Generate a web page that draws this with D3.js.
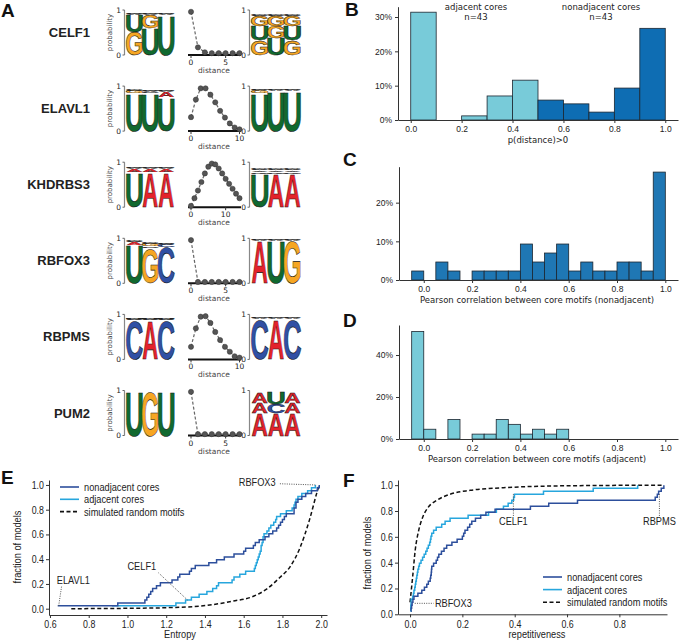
<!DOCTYPE html>
<html>
<head>
<meta charset="utf-8">
<script src="https://cdn.jsdelivr.net/npm/d3@7"></script>
<style>
  body { margin: 0; background: #fff; }
  text { fill: #222; }
</style>
</head>
<body>
<script>
// ---------- panel A data ----------
const rowNames = ["CELF1", "ELAVL1", "KHDRBS3", "RBFOX3", "RBPMS", "PUM2"];

// p(distance) per RBP, distance = index
const distCELF1 = [0.96, 0.17, 0.06, 0.04, 0.04, 0.04, 0.04, 0.04];
const distELAVL1 = [0.31, 0.70, 0.95, 0.95, 0.81, 0.64, 0.45, 0.30, 0.17, 0.08, 0.04];
const distKHDRBS3 = [0.03, 0.20, 0.37, 0.56, 0.75, 0.90, 0.97, 0.95, 0.86, 0.75, 0.63, 0.52, 0.41, 0.30, 0.20];
const distRBFOX3 = [0.96, 0.03, 0.03, 0.03, 0.03, 0.03, 0.03, 0.03];
const distRBPMS = [0.28, 0.69, 0.95, 0.96, 0.81, 0.61, 0.43, 0.28, 0.17, 0.07, 0.04];
const distPUM2 = [0.97, 0.03, 0.03, 0.03, 0.03, 0.03, 0.03, 0.03];
const distTicks = [[0, 5], [0, 10], [0, 10], [0, 5], [0, 10], [0, 5]];

// logo columns, bottom -> top, [letter, probability]
const tiny = [["A", 0.012], ["C", 0.012], ["G", 0.012]];
const leftCELF1 = [[["G", 0.52], ["U", 0.37], ...tiny], [["U", 0.60], ["G", 0.29], ...tiny], [["U", 0.89], ...tiny]];
const rightCELF1 = [[["G", 0.33], ["U", 0.31], ["G", 0.22], ...tiny], [["U", 0.37], ["G", 0.27], ["G", 0.22], ...tiny], [["G", 0.33], ["U", 0.31], ["G", 0.22], ...tiny]];
const leftELAVL1 = [[["U", 0.84], ["G", 0.05], ...tiny], [["U", 0.84], ["C", 0.03], ...tiny], [["U", 0.75], ["A", 0.12], ...tiny]];
const rightELAVL1 = [[["U", 0.84], ["G", 0.06], ...tiny], [["U", 0.90], ...tiny], [["U", 0.90], ...tiny]];
const leftKHDRBS3 = [[["U", 0.78], ["A", 0.07], ...tiny], [["A", 0.78], ["A", 0.07], ...tiny], [["A", 0.78], ["A", 0.07], ...tiny]];
const rightKHDRBS3 = [[["U", 0.74], ["G", 0.04], ["A", 0.04], ...tiny], [["A", 0.74], ["G", 0.04], ["A", 0.04], ...tiny], [["A", 0.74], ["G", 0.04], ["A", 0.04], ...tiny]];
const leftRBFOX3 = [[["U", 0.86], ["A", 0.05], ...tiny], [["G", 0.78], ["C", 0.04], ["G", 0.05], ...tiny], [["C", 0.80], ["C", 0.06], ...tiny]];
const rightRBFOX3 = [[["A", 0.94], ...tiny], [["U", 0.94], ...tiny], [["G", 0.94], ...tiny]];
const leftRBPMS = [[["C", 0.87], ...tiny, ["U", 0.012]], [["A", 0.87], ...tiny, ["U", 0.012]], [["C", 0.87], ...tiny, ["U", 0.012]]];
const rightRBPMS = [[["C", 0.90], ...tiny], [["A", 0.90], ...tiny], [["C", 0.90], ...tiny]];
const leftPUM2 = [[["U", 1.0]], [["G", 1.0]], [["U", 1.0]]];
const rightPUM2 = [[["A", 0.50], ["A", 0.22], ["A", 0.23]], [["A", 0.50], ["C", 0.20], ["U", 0.25]], [["A", 0.50], ["A", 0.22], ["A", 0.23]]];

const distData = [distCELF1, distELAVL1, distKHDRBS3, distRBFOX3, distRBPMS, distPUM2];
const leftLogos = [leftCELF1, leftELAVL1, leftKHDRBS3, leftRBFOX3, leftRBPMS, leftPUM2];
const rightLogos = [rightCELF1, rightELAVL1, rightKHDRBS3, rightRBFOX3, rightRBPMS, rightPUM2];

// ---------- panel B ----------
const bBinStart = [0.0, 0.1, 0.2, 0.3, 0.4, 0.5, 0.6, 0.7, 0.8, 0.9];
const bPercent = [31.4, 0, 1.2, 7.0, 11.6, 5.8, 4.7, 2.3, 9.3, 26.7];
const bGroup = ["adj", "adj", "adj", "adj", "adj", "non", "non", "non", "non", "non"];

// ---------- panel C / D (counts of 43 models, bin width 0.05) ----------
const cBinStart = [-0.05, 0.0, 0.05, 0.1, 0.15, 0.2, 0.25, 0.3, 0.35, 0.4, 0.45, 0.5, 0.55, 0.6, 0.65, 0.7, 0.75, 0.8, 0.85, 0.9, 0.95];
const cCounts = [1, 0, 2, 1, 0, 1, 1, 1, 1, 4, 2, 3, 4, 1, 2, 1, 1, 2, 2, 1, 12];
const dBinStart = [-0.05, 0.0, 0.05, 0.1, 0.15, 0.2, 0.25, 0.3, 0.35, 0.4, 0.45, 0.5, 0.55];
const dCounts = [22, 2, 0, 4, 0, 1, 1, 4, 3, 1, 2, 1, 2];
const nModels = 43;

// ---------- panel E (entropy per model) ----------
const entropyNonadj = [0.64, 0.95, 1.09, 1.10, 1.11, 1.12, 1.13, 1.15, 1.17, 1.23, 1.26, 1.27, 1.32, 1.33, 1.35,
  1.42, 1.46, 1.50, 1.55, 1.60, 1.61, 1.65, 1.66, 1.68, 1.71, 1.73, 1.75, 1.77, 1.78, 1.79, 1.80, 1.81, 1.82,
  1.86, 1.86, 1.87, 1.87, 1.88, 1.90, 1.92, 1.95, 1.98, 1.99];
const entropyAdj = [0.92, 1.25, 1.30, 1.33, 1.37, 1.41, 1.44, 1.46, 1.47, 1.54, 1.55, 1.58, 1.61, 1.655, 1.66,
  1.665, 1.67, 1.675, 1.68, 1.685, 1.69, 1.69, 1.695, 1.70, 1.70, 1.705, 1.72, 1.73, 1.74, 1.755, 1.765, 1.77,
  1.79, 1.82, 1.85, 1.86, 1.865, 1.87, 1.88, 1.90, 1.93, 1.95, 1.97];
const simEntropyX = [0.71, 1.0, 1.2, 1.37, 1.54, 1.65, 1.72, 1.785, 1.84, 1.89, 1.94, 1.98, 1.99];
const simEntropyY = [0, 0.003, 0.008, 0.02, 0.06, 0.10, 0.16, 0.25, 0.34, 0.49, 0.72, 0.95, 1.0];

// ---------- panel F (repetitiveness per model) ----------
const repNonadj = [0.003, 0.004, 0.006, 0.008, 0.011, 0.015, 0.03, 0.045, 0.055, 0.064, 0.07, 0.077, 0.079, 0.081,
  0.082, 0.083, 0.09, 0.10, 0.105, 0.11, 0.12, 0.13, 0.14, 0.16, 0.18, 0.20, 0.205, 0.21, 0.22, 0.228, 0.236,
  0.25, 0.27, 0.29, 0.325, 0.46, 0.53, 0.64, 0.937, 0.945, 0.95, 0.96, 0.97];
const repAdj = [0.002, 0.003, 0.003, 0.004, 0.004, 0.01, 0.013, 0.015, 0.018, 0.02, 0.022, 0.024, 0.026, 0.028,
  0.03, 0.033, 0.036, 0.042, 0.048, 0.054, 0.06, 0.065, 0.07, 0.075, 0.078, 0.08, 0.083, 0.09, 0.10, 0.121,
  0.134, 0.153, 0.222, 0.30, 0.33, 0.357, 0.375, 0.389, 0.396, 0.399, 0.51, 0.70, 0.87];
const simRepX = [0, 0.01, 0.02, 0.032, 0.048, 0.07, 0.10, 0.153, 0.23, 0.357, 0.586, 0.97];
const simRepY = [0.093, 0.29, 0.50, 0.64, 0.75, 0.83, 0.88, 0.93, 0.96, 0.98, 0.995, 1.0];

const tick01 = [0, 0.2, 0.4, 0.6, 0.8, 1.0];

// colours
const letterColor = { A: "#e3232b", C: "#3050a4", G: "#f6a623", U: "#11692f" };
const inkWidth = { A: 72, C: 63, G: 67, U: 59 };
const lightBlue = "#78cbd9", darkBlue = "#0e6db3", cBlue = "#1f77b4";
const navy = "#2d4f9c", sky = "#27a6dd";

const svg = d3.select("body").append("svg")
  .attr("width", 679).attr("height", 640)
  .style("font-family", "'DejaVu Sans', sans-serif");

const sansFont = "'Liberation Sans', Arial, sans-serif";
const squeeze = 0.84;   // E/F use a condensed face in the original

function panelLetter(t, x, y) {
  svg.append("text").attr("x", x).attr("y", y).text(t)
    .style("font-family", sansFont)
    .style("font-weight", "bold").style("font-size", "19px").style("fill", "#111");
}

function styleAxis(g, size) {
  g.selectAll("path.domain").attr("stroke", "#333");
  g.selectAll(".tick line").attr("stroke", "#333");
  g.selectAll(".tick text").style("font-size", size).style("fill", "#222");
}

function narrowText(t, x, y, anchor, rot) {
  return svg.append("text")
    .attr("transform", `translate(${x},${y})${rot ? " rotate(" + rot + ")" : ""} scale(${squeeze},1)`)
    .attr("text-anchor", anchor)
    .style("font-family", sansFont).style("font-size", "11px").text(t);
}

function narrowTicks(g) {
  g.selectAll(".tick text").style("font-family", sansFont).style("font-size", "10.5px")
    .attr("transform", `scale(${squeeze},1)`);
}

// ================= panel A =================
panelLetter("A", 1, 17);

function drawLogo(g, cols, x0, x1, y) {
  const colW = (x1 - x0) / cols.length;
  cols.forEach((col, i) => {
    let acc = 0;
    col.forEach(([letter, p]) => {
      const yTop = y(acc + p), h = y(acc) - y(acc + p);
      acc += p;
      // at a pixel or so of height the black outline is all that shows
      const thin = h < 2;
      g.append("text")
        .attr("text-anchor", "middle")
        .attr("transform", `translate(${x0 + colW * i + colW / 2},${yTop + h}) scale(${colW / inkWidth[letter]},${h / 72})`)
        .style("font-family", sansFont)
        .style("font-weight", "bold").style("font-size", "100px")
        .style("fill", thin ? "#222" : letterColor[letter])
        .style("stroke", "#111").style("stroke-width", 0.5)
        .attr("vector-effect", "non-scaling-stroke")
        .text(letter);
    });
  });
}

function logoAxis(g, xAxis, y) {
  g.append("line").attr("x1", xAxis).attr("x2", xAxis).attr("y1", y(1)).attr("y2", y(0))
    .attr("stroke", "#888").attr("stroke-width", 1.2);
  [0, 1].forEach(v => {
    g.append("line").attr("x1", xAxis - 2).attr("x2", xAxis).attr("y1", y(v)).attr("y2", y(v))
      .attr("stroke", "#666");
    g.append("text").attr("x", xAxis - 3.5).attr("y", y(v) + 2.8).attr("text-anchor", "end")
      .style("font-size", "7.5px").text(v);
  });
}

rowNames.forEach((name, i) => {
  const top = 10 + 76.1 * i;
  const g = svg.append("g");
  const y = d3.scaleLinear().domain([0, 1]).range([top + 45, top]);

  g.append("text").attr("x", 90).attr("y", top + 27).attr("text-anchor", "end")
    .style("font-family", sansFont)
    .style("font-weight", "bold").style("font-size", "13px").style("fill", "#222").text(name);

  g.append("text").attr("transform", `translate(112,${top + 22.5}) rotate(-90)`)
    .attr("text-anchor", "middle").style("font-size", "7px").style("fill", "#444").text("probability");

  logoAxis(g, 124.5, y);
  drawLogo(g, leftLogos[i], 126.5, 174, y);
  logoAxis(g, 249.5, y);
  drawLogo(g, rightLogos[i], 251.5, 300.5, y);

  // distance profile
  const vals = distData[i];
  const x = d3.scaleLinear().domain([0, vals.length - 1]).range([191, 239.5]);
  g.append("line").attr("x1", 188).attr("x2", 241).attr("y1", y(0)).attr("y2", y(0))
    .attr("stroke", "#111").attr("stroke-width", 2);
  distTicks[i].forEach(t => {
    g.append("line").attr("x1", x(t)).attr("x2", x(t)).attr("y1", y(0)).attr("y2", y(0) + 3).attr("stroke", "#333");
    g.append("text").attr("x", x(t)).attr("y", y(0) + 10).attr("text-anchor", "middle")
      .style("font-size", "7.5px").text(t);
  });
  g.append("text").attr("x", 214).attr("y", y(0) + 18).attr("text-anchor", "middle")
    .style("font-size", "7.5px").style("fill", "#444").text("distance");
  g.append("path").datum(vals)
    .attr("d", d3.line().x((d, k) => x(k)).y(d => y(d)))
    .attr("fill", "none").attr("stroke", "#666").attr("stroke-width", 1.2).attr("stroke-dasharray", "3,2");
  g.selectAll("circle").data(vals).join("circle")
    .attr("cx", (d, k) => x(k)).attr("cy", d => y(d)).attr("r", 2.6)
    .attr("fill", "#555").attr("stroke", "#333").attr("stroke-width", 0.5);
});

// ================= panel B =================
panelLetter("B", 345, 16);
{
  const x = d3.scaleLinear().domain([-0.05, 1.05]).range([398, 678]);
  const y = d3.scaleLinear().domain([0, 33]).range([120, 6.7]);
  svg.append("g").selectAll("rect").data(bPercent).join("rect")
    .attr("x", (d, i) => x(bBinStart[i])).attr("width", (d, i) => x(bBinStart[i] + 0.1) - x(bBinStart[i]))
    .attr("y", d => y(d)).attr("height", d => y(0) - y(d))
    .attr("fill", (d, i) => bGroup[i] === "adj" ? lightBlue : darkBlue)
    .attr("stroke", "#1c2630").attr("stroke-width", d => d > 0 ? 0.8 : 0);
  const ax = svg.append("g").attr("transform", "translate(398,0)")
    .call(d3.axisLeft(y).tickValues([0, 10, 20, 30]).tickFormat(d => d + "%").tickSize(3).tickSizeOuter(0));
  styleAxis(ax, "8.5px");
  const bx = svg.append("g").attr("transform", "translate(0,120)")
    .call(d3.axisBottom(x).tickValues(tick01).tickFormat(d3.format(".1f")).tickSize(3).tickSizeOuter(0));
  styleAxis(bx, "8.5px");
  svg.append("text").attr("x", 538).attr("y", 143).attr("text-anchor", "middle").style("font-size", "8.5px").text("p(distance)>0");
  svg.append("text").attr("x", 476).attr("y", 10).attr("text-anchor", "middle").style("font-size", "8.5px").text("adjacent cores");
  svg.append("text").attr("x", 476).attr("y", 20).attr("text-anchor", "middle").style("font-size", "8.5px").text("n=43");
  svg.append("text").attr("x", 601).attr("y", 10).attr("text-anchor", "middle").style("font-size", "8.5px").text("nonadjacent cores");
  svg.append("text").attr("x", 601).attr("y", 20).attr("text-anchor", "middle").style("font-size", "8.5px").text("n=43");
}

// ================= panels C and D =================
function corrHist(binStart, counts, fill, yMax, yBase, yTop, yTicks, label, labelY) {
  const x = d3.scaleLinear().domain([-0.1025, 1.0525]).range([399, 678]);
  const y = d3.scaleLinear().domain([0, yMax]).range([yBase, yTop]);
  const pct = counts.map(c => c / nModels * 100);
  svg.append("g").selectAll("rect").data(pct).join("rect")
    .attr("x", (d, i) => x(binStart[i])).attr("width", (d, i) => x(binStart[i] + 0.05) - x(binStart[i]))
    .attr("y", d => y(d)).attr("height", d => y(0) - y(d))
    .attr("fill", fill).attr("stroke", "#1c2630").attr("stroke-width", d => d > 0 ? 0.8 : 0);
  const ay = svg.append("g").attr("transform", "translate(399,0)")
    .call(d3.axisLeft(y).tickValues(yTicks).tickFormat(d => d + "%").tickSize(3).tickSizeOuter(0));
  styleAxis(ay, "8.5px");
  const ax = svg.append("g").attr("transform", `translate(0,${yBase})`)
    .call(d3.axisBottom(x).tickValues(tick01).tickFormat(d3.format(".1f")).tickSize(3).tickSizeOuter(0));
  styleAxis(ax, "8.5px");
  svg.append("text").attr("x", 537).attr("y", labelY).attr("text-anchor", "middle").style("font-size", "8.5px").text(label);
}
panelLetter("C", 343, 166);
corrHist(cBinStart, cCounts, cBlue, 29.3, 280, 166.7, [0, 10, 20],
  "Pearson correlation between core motifs (nonadjacent)", 303);
panelLetter("D", 343, 327);
corrHist(dBinStart, dCounts, lightBlue, 54.3, 439, 325, [0, 20, 40],
  "Pearson correlation between core motifs (adjacent)", 462);

// ================= ECDF helpers =================
function ecdf(values) {
  const s = values.slice().sort(d3.ascending);
  return s.map((v, i) => [v, (i + 1) / s.length]);
}

function legend(x0, y0, dy) {
  const items = [["nonadjacent cores", navy, null], ["adjacent cores", sky, null], ["simulated random motifs", "#111", "4,2.5"]];
  items.forEach(([t, c, dash], i) => {
    svg.append("line").attr("x1", x0).attr("x2", x0 + 19).attr("y1", y0 + i * dy).attr("y2", y0 + i * dy)
      .attr("stroke", c).attr("stroke-width", 1.6).attr("stroke-dasharray", dash);
    narrowText(t, x0 + 24, y0 + i * dy + 4, "start");
  });
}

function annot(x1, y1, x2, y2) {
  svg.append("line").attr("x1", x1).attr("y1", y1).attr("x2", x2).attr("y2", y2)
    .attr("stroke", "#555").attr("stroke-width", 1).attr("stroke-dasharray", "1,1.3");
}

// ================= panel E =================
panelLetter("E", 1, 484);
{
  const x = d3.scaleLinear().domain([0.595, 2.03]).range([49, 327]);
  const y = d3.scaleLinear().domain([-0.051, 1.04]).range([615, 480]);
  const ay = svg.append("g").attr("transform", "translate(49,0)")
    .call(d3.axisLeft(y).tickValues(tick01).tickFormat(d3.format(".1f")).tickSize(3).tickSizeOuter(0));
  styleAxis(ay, "10px");
  narrowTicks(ay);
  const ax = svg.append("g").attr("transform", "translate(0,615)")
    .call(d3.axisBottom(x).tickValues([0.6, 0.8, 1.0, 1.2, 1.4, 1.6, 1.8, 2.0]).tickFormat(d3.format(".1f")).tickSize(3).tickSizeOuter(0));
  styleAxis(ax, "10px");
  narrowTicks(ax);

  const sim = simEntropyX.map((v, i) => [v, simEntropyY[i]]);
  svg.append("path").datum(sim).attr("d", d3.line().x(d => x(d[0])).y(d => y(d[1])).curve(d3.curveMonotoneX))
    .attr("fill", "none").attr("stroke", "#111").attr("stroke-width", 1.5).attr("stroke-dasharray", "4,2.5");
  const step = d3.line().x(d => x(d[0])).y(d => y(d[1])).curve(d3.curveStepAfter);
  svg.append("path").datum(ecdf(entropyAdj)).attr("d", step)
    .attr("fill", "none").attr("stroke", sky).attr("stroke-width", 1.5);
  svg.append("path").datum(ecdf(entropyNonadj)).attr("d", step)
    .attr("fill", "none").attr("stroke", navy).attr("stroke-width", 1.5);

  legend(60, 487, 12.3);

  narrowText("fraction of models", 21, 547, "middle", -90);
  narrowText("Entropy", 180, 638, "middle");

  annot(x(0.645), y(1 / nModels), x(0.66), y(0.18));
  narrowText("ELAVL1", x(0.635), y(0.2), "start");
  annot(x(1.31), y(0.07), x(1.16), y(0.29));
  narrowText("CELF1", x(1.0), y(0.31), "start");
  annot(x(1.97), y(1.0), x(1.78), y(1.01));
  narrowText("RBFOX3", x(1.765), y(0.99), "end");
}

// ================= panel F =================
panelLetter("F", 343, 487);
{
  const x = d3.scaleLinear().domain([-0.046, 0.982]).range([398, 667]);
  const y = d3.scaleLinear().domain([0, 1.04]).range([614.3, 480]);
  const ay = svg.append("g").attr("transform", "translate(398,0)")
    .call(d3.axisLeft(y).tickValues(tick01).tickFormat(d3.format(".1f")).tickSize(3).tickSizeOuter(0));
  styleAxis(ay, "10px");
  narrowTicks(ay);
  const ax = svg.append("g").attr("transform", "translate(0,614.3)")
    .call(d3.axisBottom(x).tickValues([0, 0.2, 0.4, 0.6, 0.8]).tickFormat(d3.format(".1f")).tickSize(3).tickSizeOuter(0));
  styleAxis(ax, "10px");
  narrowTicks(ax);

  const sim = simRepX.map((v, i) => [v, simRepY[i]]);
  svg.append("path").datum(sim).attr("d", d3.line().x(d => x(d[0])).y(d => y(d[1])).curve(d3.curveMonotoneX))
    .attr("fill", "none").attr("stroke", "#111").attr("stroke-width", 1.5).attr("stroke-dasharray", "4,2.5");
  const step = d3.line().x(d => x(d[0])).y(d => y(d[1])).curve(d3.curveStepAfter);
  svg.append("path").datum(ecdf(repAdj)).attr("d", step)
    .attr("fill", "none").attr("stroke", sky).attr("stroke-width", 1.5);
  svg.append("path").datum(ecdf(repNonadj)).attr("d", step)
    .attr("fill", "none").attr("stroke", navy).attr("stroke-width", 1.5);

  legend(543, 577, 12.6);

  narrowText("fraction of models", 371, 553, "middle", -90);
  narrowText("repetitiveness", 537, 638, "middle");

  annot(x(0.395), y(0.93), x(0.395), y(0.76));
  narrowText("CELF1", x(0.395), y(0.69), "middle");
  annot(x(0.953), y(0.93), x(0.953), y(0.76));
  narrowText("RBPMS", x(0.953), y(0.69), "middle");
  annot(x(0.018), y(0.085), x(0.09), y(0.085));
  narrowText("RBFOX3", x(0.095), y(0.085) + 3.8, "start");
}
</script>
</body>
</html>
